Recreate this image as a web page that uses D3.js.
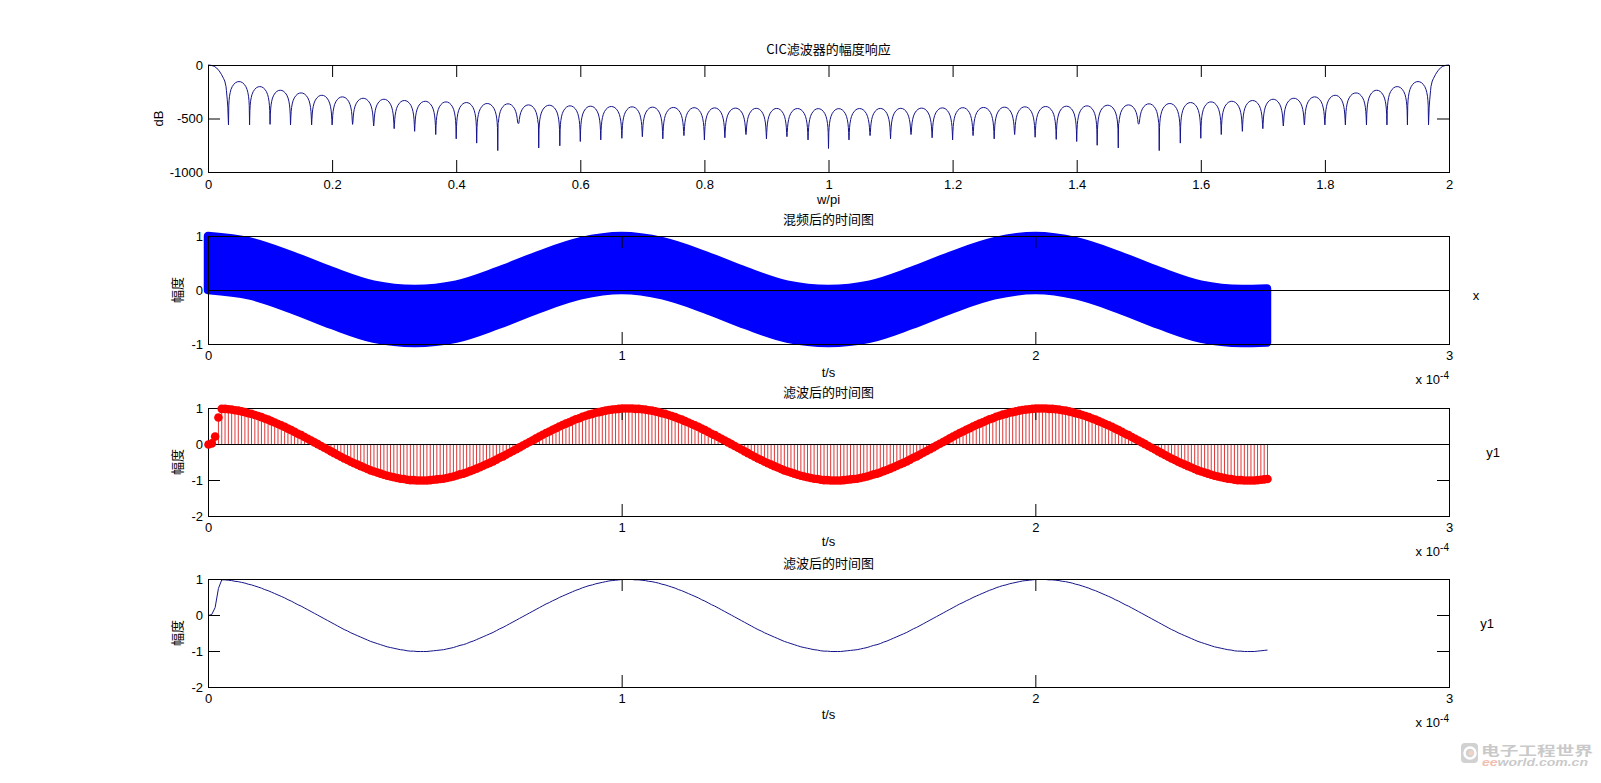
<!DOCTYPE html>
<html>
<head>
<meta charset="utf-8">
<script src="https://cdn.jsdelivr.net/npm/d3@7"></script>
<style>
  body { margin: 0; background: #fff; }
  svg { display: block; }
</style>
</head>
<body>
<svg id="chart" width="1601" height="783"></svg>
<script>
// ---- data ----
// panel 1: CIC magnitude response (dB vs w/pi)
const respTicksX = [0, 0.2, 0.4, 0.6, 0.8, 1, 1.2, 1.4, 1.6, 1.8, 2];
const respTicksY = [-1000, -500, 0];
const mainLobeF = [0, 0.005, 0.01, 0.014, 0.018, 0.0216, 0.025, 0.027, 0.029, 0.0297, 0.031, 0.032];
const mainLobeDb = [0, -3, -12, -28, -55, -87, -125, -150, -200, -240, -320, -400];
const endLobeF = [1.968, 1.969, 1.9703, 1.971, 1.973, 1.975, 1.9784, 1.982, 1.986, 1.99, 1.995, 2];
const endLobeDb = [-400, -320, -240, -200, -150, -125, -87, -55, -28, -12, -3, 0];
const nullFreq = [0.033,0.067,0.1,0.133,0.167,0.2,0.233,0.267,0.3,0.333,
  0.367,0.4,0.433,0.467,0.5,0.533,0.567,0.6,0.633,0.667,
  0.7,0.733,0.767,0.8,0.833,0.867,0.9,0.933,0.967,1,
  1.033,1.067,1.1,1.133,1.167,1.2,1.233,1.267,1.3,1.333,
  1.367,1.4,1.433,1.467,1.5,1.533,1.567,1.6,1.633,1.667,
  1.7,1.733,1.767,1.8,1.833,1.867,1.9,1.933,1.967];
const nullDb = [-560,-560,-555,-560,-560,-560,-555,-570,-595,-620,
  -650,-690,-730,-800,-545,-775,-755,-715,-700,-685,
  -670,-690,-660,-700,-680,-650,-690,-670,-700,-780,
  -700,-660,-690,-650,-680,-700,-660,-690,-650,-675,
  -695,-715,-750,-775,-550,-800,-730,-685,-650,-620,
  -595,-570,-560,-560,-560,-560,-560,-560,-560];
const lobePeakDb = [-155,-202,-236,-261,-283,-298,-311,-320,-332,-339,
  -345,-351,-360,-363,-373,-376,-382,-385,-388,-391,
  -394,-397,-399,-401,-403,-405,-406,-407,-408,
  -408,-407,-406,-405,-403,-401,-399,-397,-394,-391,
  -388,-385,-382,-376,-373,-363,-360,-351,-345,-339,
  -332,-320,-311,-298,-283,-261,-236,-202,-155];
// shape of one side lobe: position inside the lobe, drop below its peak (dB)
const lobeShapeP = [0.015,0.03,0.05,0.08,0.12,0.18,0.25,0.33,0.42,0.5,0.58,0.67,0.75,0.82,0.88,0.92,0.95,0.97,0.985];
const lobeShapeDrop = [225,175,137,103,73,46,26,11,2,0,2,11,26,46,73,103,137,175,225];

// panels 2-4: time axis in units of 1e-4 s
const timeTicks = [0, 1, 2, 3];
const ampTicks2 = [-1, 0, 1];
const ampTicks3 = [-2, -1, 0, 1];
// mixed signal x: envelope of the dense stem plot
const mixT = [0,0.1,0.2,0.3,0.4,0.5,0.6,0.7,0.8,0.9,1,1.1,1.2,1.3,1.4,1.5,1.6,1.7,1.8,1.9,2,2.1,2.2,2.3,2.4,2.5,2.56];
const mixUpper = [1,0.9,0.65,0.35,0.1,0.02,0.1,0.35,0.65,0.9,1,0.9,0.65,0.35,0.1,0.02,0.1,0.35,0.65,0.9,1,0.9,0.65,0.35,0.1,0.02,0.03];
const mixLower = [0,-0.1,-0.35,-0.65,-0.9,-0.98,-0.9,-0.65,-0.35,-0.1,0,-0.1,-0.35,-0.65,-0.9,-0.98,-0.9,-0.65,-0.35,-0.1,0,-0.1,-0.35,-0.65,-0.9,-0.98,-0.97];
// filtered output y1, one value per output sample
const y1Ts = 0.008;
const y1 = [0,0.03,0.22,0.75,0.99,
  0.99,0.98,0.97,0.95,0.94,0.92,0.90,0.87,0.85,0.82,0.79,0.76,0.72,0.69,0.65,0.61,0.57,0.53,0.49,0.44,
  0.40,0.35,0.30,0.26,0.21,0.16,0.11,0.06,0.01,-0.04,-0.09,-0.14,-0.19,-0.24,-0.29,-0.34,-0.39,-0.43,-0.48,-0.52,
  -0.56,-0.60,-0.64,-0.68,-0.72,-0.75,-0.78,-0.81,-0.84,-0.87,-0.89,-0.91,-0.93,-0.95,-0.96,-0.98,-0.99,-0.99,-1.00,-1.00,
  -1.00,-1.00,-0.99,-0.98,-0.97,-0.96,-0.95,-0.93,-0.91,-0.89,-0.86,-0.83,-0.81,-0.78,-0.74,-0.71,-0.67,-0.63,-0.59,-0.55,
  -0.51,-0.47,-0.42,-0.37,-0.33,-0.28,-0.23,-0.18,-0.13,-0.08,-0.03,0.02,0.07,0.12,0.17,0.22,0.27,0.32,0.36,0.41,
  0.45,0.50,0.54,0.58,0.62,0.66,0.70,0.73,0.77,0.80,0.83,0.85,0.88,0.90,0.92,0.94,0.96,0.97,0.98,0.99,
  1.00,1.00,1.00,1.00,0.99,
  0.99,0.98,0.97,0.95,0.94,0.92,0.90,0.87,0.85,0.82,0.79,0.76,0.72,0.69,0.65,0.61,0.57,0.53,0.49,0.44,
  0.40,0.35,0.30,0.26,0.21,0.16,0.11,0.06,0.01,-0.04,-0.09,-0.14,-0.19,-0.24,-0.29,-0.34,-0.39,-0.43,-0.48,-0.52,
  -0.56,-0.60,-0.64,-0.68,-0.72,-0.75,-0.78,-0.81,-0.84,-0.87,-0.89,-0.91,-0.93,-0.95,-0.96,-0.98,-0.99,-0.99,-1.00,-1.00,
  -1.00,-1.00,-0.99,-0.98,-0.97,-0.96,-0.95,-0.93,-0.91,-0.89,-0.86,-0.83,-0.81,-0.78,-0.74,-0.71,-0.67,-0.63,-0.59,-0.55,
  -0.51,-0.47,-0.42,-0.37,-0.33,-0.28,-0.23,-0.18,-0.13,-0.08,-0.03,0.02,0.07,0.12,0.17,0.22,0.27,0.32,0.36,0.41,
  0.45,0.50,0.54,0.58,0.62,0.66,0.70,0.73,0.77,0.80,0.83,0.85,0.88,0.90,0.92,0.94,0.96,0.97,0.98,0.99,
  1.00,1.00,1.00,1.00,0.99,
  0.99,0.98,0.97,0.95,0.94,0.92,0.90,0.87,0.85,0.82,0.79,0.76,0.72,0.69,0.65,0.61,0.57,0.53,0.49,0.44,
  0.40,0.35,0.30,0.26,0.21,0.16,0.11,0.06,0.01,-0.04,-0.09,-0.14,-0.19,-0.24,-0.29,-0.34,-0.39,-0.43,-0.48,-0.52,
  -0.56,-0.60,-0.64,-0.68,-0.72,-0.75,-0.78,-0.81,-0.84,-0.87,-0.89,-0.91,-0.93,-0.95,-0.96,-0.98,-0.99,-0.99,-1.00,-1.00,
  -1.00,-1.00,-0.99,-0.98,-0.97,-0.96];

// ---- layout ----
const LATIN = '"Liberation Sans", Arial, sans-serif';
const CJK = '"Noto Sans CJK SC", "Noto Sans CJK JP", sans-serif';
const X0 = 208, X1 = 1449, TICK = 12, CX = (X0 + X1) / 2;
const plain = d => String(d);   // matlab style: plain hyphen minus, no grouping
const svg = d3.select("#chart");

function panel(o) {
  const g = svg.append("g");
  const x = d3.scaleLinear().domain(o.xDomain).range([X0, X1]);
  const y = d3.scaleLinear().domain(o.yDomain).range([o.bottom, o.top]);
  return {g, x, y, o, data: g.append("g"), front: g.append("g")};
}

function frame(p, xTicks, yTicks, pad) {
  const {x, y, o} = p;
  const f = p.g.append("g");
  f.append("rect")
    .attr("x", X0 + 0.5).attr("y", o.top + 0.5)
    .attr("width", X1 - X0).attr("height", o.bottom - o.top)
    .attr("fill", "none").attr("stroke", "#000");
  f.append("g").attr("transform", `translate(0,${o.bottom})`)
    .call(d3.axisBottom(x).tickValues(xTicks).tickSizeInner(-TICK).tickSizeOuter(0).tickPadding(pad).tickFormat(plain));
  f.append("g").attr("transform", `translate(0,${o.top})`)
    .call(d3.axisTop(x).tickValues(xTicks).tickSizeInner(-TICK).tickSizeOuter(0).tickFormat(""));
  f.append("g").attr("transform", `translate(${X0},0)`)
    .call(d3.axisLeft(y).tickValues(yTicks).tickSizeInner(-TICK).tickSizeOuter(0).tickPadding(5).tickFormat(plain));
  f.append("g").attr("transform", `translate(${X1},0)`)
    .call(d3.axisRight(y).tickValues(yTicks).tickSizeInner(-TICK).tickSizeOuter(0).tickFormat(""));
  f.selectAll(".domain").remove();
  f.selectAll(".tick line").attr("stroke", "#000");
  f.selectAll(".tick text").attr("fill", "#000")
    .style("font-family", LATIN).style("font-size", "13px");
  return f;
}

function label(txt, x, y, o = {}) {
  const t = svg.append("text")
    .attr("x", x).attr("y", y).attr("dy", "0.36em")
    .attr("text-anchor", o.anchor || "middle")
    .style("font-family", o.cjk ? CJK : LATIN)
    .style("font-size", (o.size || 13) + "px")
    .attr("fill", "#000")
    .text(txt);
  if (o.rotate) t.attr("transform", `rotate(-90,${x},${y})`);
  return t;
}

function expLabel(p) {
  const t = svg.append("text")
    .attr("x", X1).attr("y", p.o.bottom + 35).attr("dy", "0.36em")
    .attr("text-anchor", "end")
    .style("font-family", LATIN).style("font-size", "13px").attr("fill", "#000");
  t.append("tspan").text("x 10");
  t.append("tspan").attr("dy", -5).style("font-size", "10px").text("-4");
}

// ---- panel 1: magnitude response ----
const p1 = panel({xDomain: [0, 2], yDomain: [-1000, 0], top: 65, bottom: 172});
const respPts = mainLobeF.map((f, i) => [f, mainLobeDb[i]]);
nullFreq.forEach((f, k) => {
  respPts.push([f, nullDb[k]]);
  if (k < lobePeakDb.length) {
    const f2 = nullFreq[k + 1];
    const floor = Math.max(nullDb[k], nullDb[k + 1]);
    lobeShapeP.forEach((pp, i) =>
      respPts.push([f + pp * (f2 - f), Math.max(floor, lobePeakDb[k] - lobeShapeDrop[i])]));
  }
});
endLobeF.forEach((f, i) => respPts.push([f, endLobeDb[i]]));
p1.data.append("path")
  .attr("d", d3.line().x(d => p1.x(d[0])).y(d => p1.y(d[1]))(respPts))
  .attr("fill", "none").attr("stroke", "#15158a").attr("stroke-width", 1);
frame(p1, respTicksX, respTicksY, 7.5);
label("CIC滤波器的幅度响应", CX, 49, {cjk: true});
label("w/pi", CX, 172 + 27);
label("dB", 158, 118.5, {rotate: true});

// ---- panel 2: mixed signal (dense stem plot) ----
const p2 = panel({xDomain: [0, 3], yDomain: [-1, 1], top: 236, bottom: 344});
p2.data.append("path").datum(mixT)
  .attr("d", d3.area()
    .x((d, i) => p2.x(mixT[i]))
    .y0((d, i) => p2.y(mixLower[i]))
    .y1((d, i) => p2.y(mixUpper[i]))
    .curve(d3.curveMonotoneX))
  .attr("fill", "#0000ff").attr("stroke", "#0000ff")
  .attr("stroke-width", 8.5).attr("stroke-linejoin", "round");
p2.data.append("line")
  .attr("x1", X0).attr("x2", X1)
  .attr("y1", p2.y(0) + 0.5).attr("y2", p2.y(0) + 0.5)
  .attr("stroke", "#000");
frame(p2, timeTicks, ampTicks2, 6.5);
label("混频后的时间图", CX, 219.5, {cjk: true});
label("t/s", CX, 344 + 28);
label("幅度", 177.5, 290, {cjk: true, rotate: true});
label("x", 1476, 295);
expLabel(p2);

// ---- panel 3: filtered output as stems ----
const p3 = panel({xDomain: [0, 3], yDomain: [-2, 1], top: 408, bottom: 516});
p3.data.selectAll("line.stem").data(y1).join("line")
  .attr("class", "stem")
  .attr("x1", (d, i) => p3.x(i * y1Ts) + 0.5).attr("x2", (d, i) => p3.x(i * y1Ts) + 0.5)
  .attr("y1", p3.y(0)).attr("y2", d => p3.y(d))
  .attr("stroke", "#dd2020").attr("stroke-width", 0.9);
frame(p3, timeTicks, ampTicks3, 6.5);
p3.front.raise();
p3.front.append("line")
  .attr("x1", X0).attr("x2", X1)
  .attr("y1", p3.y(0) + 0.5).attr("y2", p3.y(0) + 0.5)
  .attr("stroke", "#000");
p3.front.selectAll("circle").data(y1).join("circle")
  .attr("cx", (d, i) => p3.x(i * y1Ts) + 0.5)
  .attr("cy", d => p3.y(d) + 0.5)
  .attr("r", 4.3).attr("fill", "#ff0000");
label("滤波后的时间图", CX, 392, {cjk: true});
label("t/s", CX, 516 + 25);
label("幅度", 177.5, 462, {cjk: true, rotate: true});
label("y1", 1493, 452);
expLabel(p3);

// ---- panel 4: filtered output as a line ----
const p4 = panel({xDomain: [0, 3], yDomain: [-2, 1], top: 579, bottom: 687});
p4.data.append("path").datum(y1)
  .attr("d", d3.line().x((d, i) => p4.x(i * y1Ts) + 0.5).y(d => p4.y(d) + 0.5))
  .attr("fill", "none").attr("stroke", "#15158a").attr("stroke-width", 1);
frame(p4, timeTicks, ampTicks3, 6.5);
label("滤波后的时间图", CX, 563.5, {cjk: true});
label("t/s", CX, 687 + 27);
label("幅度", 177.5, 633, {cjk: true, rotate: true});
label("y1", 1487, 623);
expLabel(p4);

// ---- faded watermark, bottom right ----
const wm = svg.append("g").attr("opacity", 0.45);
wm.append("rect").attr("x", 1461).attr("y", 743).attr("width", 17).attr("height", 20)
  .attr("rx", 4).attr("fill", "#9a9a9a");
wm.append("circle").attr("cx", 1470).attr("cy", 753).attr("r", 5.5)
  .attr("fill", "none").attr("stroke", "#fff").attr("stroke-width", 2.5);
wm.append("circle").attr("cx", 1471).attr("cy", 753).attr("r", 2.5).attr("fill", "#e8a080");
wm.append("text").attr("x", 1481).attr("y", 755)
  .attr("textLength", 112).attr("lengthAdjust", "spacingAndGlyphs")
  .style("font-family", CJK).style("font-size", "13px").style("font-weight", "bold")
  .attr("fill", "#8a8a8a").text("电子工程世界");
const wmt = wm.append("text").attr("x", 1482).attr("y", 766)
  .attr("textLength", 106).attr("lengthAdjust", "spacingAndGlyphs")
  .style("font-family", LATIN).style("font-size", "11px")
  .style("font-weight", "bold").style("font-style", "italic").attr("fill", "#8a8a8a");
wmt.append("tspan").attr("fill", "#e07050").text("ee");
wmt.append("tspan").text("world.com.cn");
</script>
</body>
</html>
